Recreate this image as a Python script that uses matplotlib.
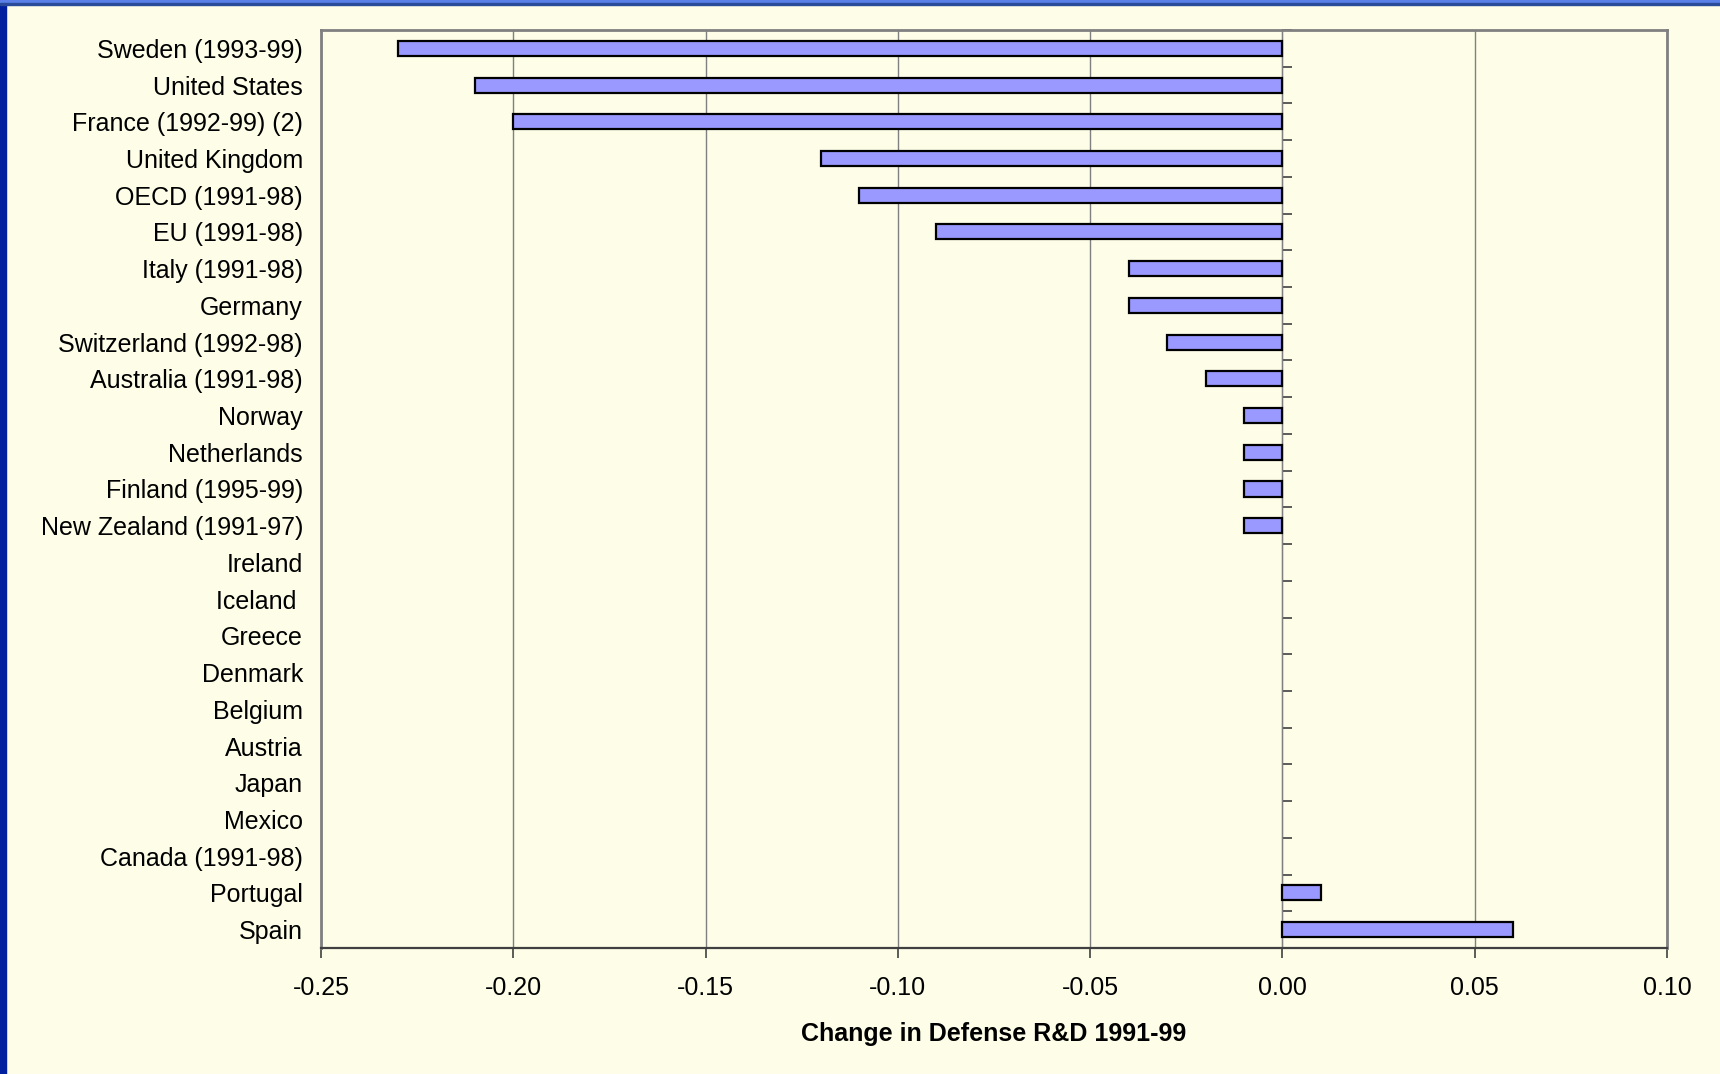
import matplotlib.pyplot as plt
import numpy as np
from matplotlib.patches import Rectangle

plt.rcParams['font.family'] = ['Liberation Sans', 'DejaVu Sans']

countries = [
    "Sweden (1993-99)", "United States", "France (1992-99) (2)", "United Kingdom",
    "OECD (1991-98)", "EU (1991-98)", "Italy (1991-98)", "Germany",
    "Switzerland (1992-98)", "Australia (1991-98)", "Norway", "Netherlands",
    "Finland (1995-99)", "New Zealand (1991-97)", "Ireland", "Iceland ",
    "Greece", "Denmark", "Belgium", "Austria", "Japan", "Mexico",
    "Canada (1991-98)", "Portugal", "Spain",
]
change = [
    -0.23, -0.21, -0.20, -0.12, -0.11, -0.09, -0.04, -0.04,
    -0.03, -0.02, -0.01, -0.01, -0.01, -0.01, 0.0, 0.0,
    0.0, 0.0, 0.0, 0.0, 0.0, 0.0, 0.0, 0.01, 0.06,
]
x_ticks = [-0.25, -0.20, -0.15, -0.10, -0.05, 0.00, 0.05, 0.10]

bg = '#FDFDE8'
grey = '#808080'
fs = 18

fig = plt.figure(figsize=(17.2, 10.74), dpi=100, facecolor=bg)
ax = fig.add_axes([0.1866, 0.1173, 0.9692 - 0.1866, 0.9721 - 0.1173])
ax.set_facecolor(bg)

n = len(countries)
ypos = np.arange(n)[::-1]
# zero-valued bars get no outline so they stay invisible
edges = ['black' if v != 0 else 'none' for v in change]
ax.barh(ypos, change, height=0.41, color='#9999FF', edgecolor=edges,
        linewidth=1.6, zorder=3)

ax.set_xlim(x_ticks[0], x_ticks[-1])
ax.set_ylim(-0.5, n - 0.5)
ax.set_xticks(x_ticks)
ax.set_xticklabels(["%.2f" % v for v in x_ticks], fontsize=fs)
ax.tick_params(axis='x', length=7, width=1.2, color='#404040', pad=13)
ax.grid(axis='x', color=grey, linewidth=1.0, zorder=1)

ax.set_yticks(ypos)
ax.set_yticklabels(countries, fontsize=fs, va='center_baseline')
ax.tick_params(axis='y', length=0, pad=13)

for side in ['top', 'right', 'left']:
    ax.spines[side].set_color(grey)
    ax.spines[side].set_linewidth(2)
ax.spines['bottom'].set_color('#404040')
ax.spines['bottom'].set_linewidth(1.6)

# category axis crossing at zero, with separator ticks between bars
zero_frac = (0 - x_ticks[0]) / (x_ticks[-1] - x_ticks[0])
cat_axis = ax.secondary_yaxis(zero_frac)
cat_axis.set_yticks(np.arange(n + 1) - 0.5)
cat_axis.set_yticklabels([])
cat_axis.tick_params(axis='y', direction='out', length=7, width=1.2, color='#404040')
cat_axis.spines['left'].set_color('#606060')
cat_axis.spines['left'].set_linewidth(1.5)

ax.set_xlabel("Change in Defense R&D 1991-99", fontsize=fs, fontweight='bold',
              labelpad=16)

# window frame
fig.patches.append(Rectangle((0, 0), 6 / 1720, 1, transform=fig.transFigure,
                             color='#0020A0', zorder=10))
fig.patches.append(Rectangle((0, 1 - 4 / 1074), 1, 4 / 1074, transform=fig.transFigure,
                             color='#5A80E8', zorder=10))
fig.patches.append(Rectangle((0, 1 - 5 / 1074), 1, 1.5 / 1074, transform=fig.transFigure,
                             color='#2A4A9A', zorder=10))

fig.savefig("out.png", dpi=100, facecolor=bg)
